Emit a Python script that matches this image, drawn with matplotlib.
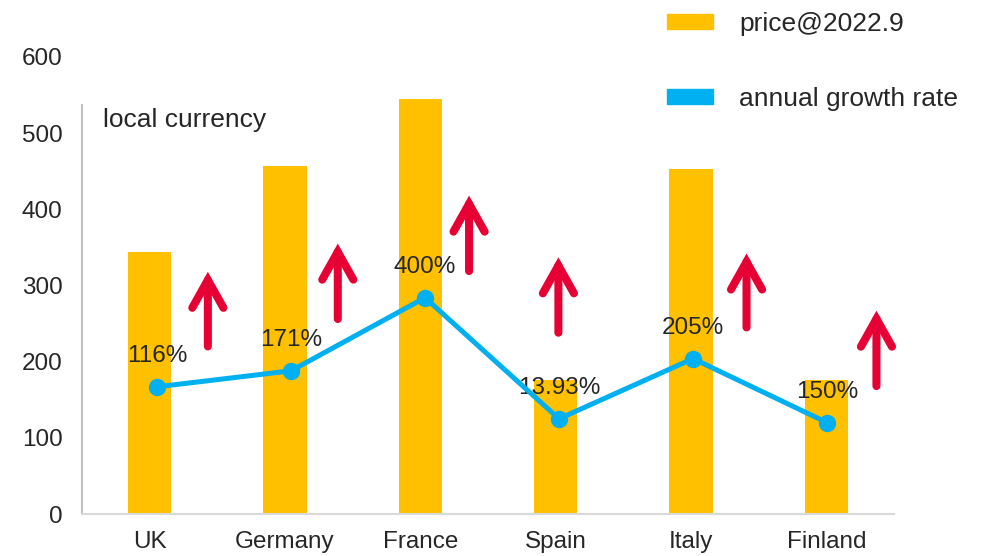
import matplotlib
matplotlib.use("Agg")
import matplotlib.pyplot as plt
from matplotlib.patches import Patch

plt.rcParams["font.family"] = ["Liberation Sans", "DejaVu Sans"]

countries = ["UK", "Germany", "France", "Spain", "Italy", "Finland"]
price = [344, 457, 545, 176, 453, 176]
growth_line = [167, 188, 284, 125, 204, 120]
growth_labels = ["116%", "171%", "400%", "13.93%", "205%", "150%"]

# red "rising" markers drawn between the columns
arrow_x = [0.43, 1.39, 2.36, 3.02, 4.41, 5.37]
arrow_base = [220, 256, 319, 238, 245, 168]
arrow_tip = [318, 355, 418, 337, 342, 267]

BAR = "#FFC000"
LINE = "#00B0F0"
RED = "#E60033"
TEXT = "#262626"
FS = 17.5
FS_BIG = 19

fig = plt.figure(figsize=(9.89, 5.56), dpi=100)
ax = fig.add_axes([0.0829, 0.0755, 0.8211, 0.822])

xs = range(len(countries))
ax.bar(xs, price, width=0.32, color=BAR, zorder=2)
ax.set_xlim(-0.5, 5.5)
ax.set_ylim(0, 600)
ax.set_yticks(range(0, 601, 100))
ax.set_xticks(list(xs))
ax.set_xticklabels(countries)
ax.tick_params(axis="both", length=0, labelsize=FS, labelcolor=TEXT)
ax.tick_params(axis="y", pad=14)
ax.tick_params(axis="x", pad=12)
for s in ("top", "right"):
    ax.spines[s].set_visible(False)
ax.spines["left"].set_color("#BFBFBF")
ax.spines["left"].set_linewidth(1.5)
ax.spines["left"].set_bounds(0, 537)
ax.spines["bottom"].set_color("#D9D9D9")
ax.spines["bottom"].set_linewidth(1.5)

ax.text(0.026, 0.862, "local currency", transform=ax.transAxes,
        fontsize=FS_BIG, color=TEXT, va="center", ha="left")

for x, b, t in zip(arrow_x, arrow_base, arrow_tip):
    ax.annotate("", xy=(x, t), xytext=(x, b),
                arrowprops=dict(arrowstyle="->,head_length=1.0,head_width=0.56",
                                color=RED, lw=5.8, mutation_scale=20,
                                shrinkA=0, shrinkB=0, capstyle="round",
                                joinstyle="miter"),
                zorder=3)

# growth line sits on its own overlay axes
ax2 = fig.add_axes(ax.get_position(), sharey=ax)
ax2.patch.set_visible(False)
ax2.axis("off")
ax2.set_xlim(-0.56, 5.5)
ax2.plot(list(xs), growth_line, color=LINE, lw=3.6, marker="o",
         markersize=11.5, zorder=4)
for x, y, lab in zip(xs, growth_line, growth_labels):
    ax2.annotate(lab, (x, y), xytext=(0, 22), textcoords="offset points",
                 ha="center", va="center", fontsize=FS, color=TEXT)

handles = [Patch(color=BAR), Patch(color=LINE)]
fig.legend(handles, ["price@2022.9", "annual growth rate"],
           loc="upper left", bbox_to_anchor=(0.662, 1.0), frameon=False,
           fontsize=FS_BIG, labelcolor=TEXT, handlelength=1.75, handleheight=0.5,
           handletextpad=1.0, labelspacing=1.95, borderpad=0.45, borderaxespad=0)

fig.savefig("out.png", dpi=100)
